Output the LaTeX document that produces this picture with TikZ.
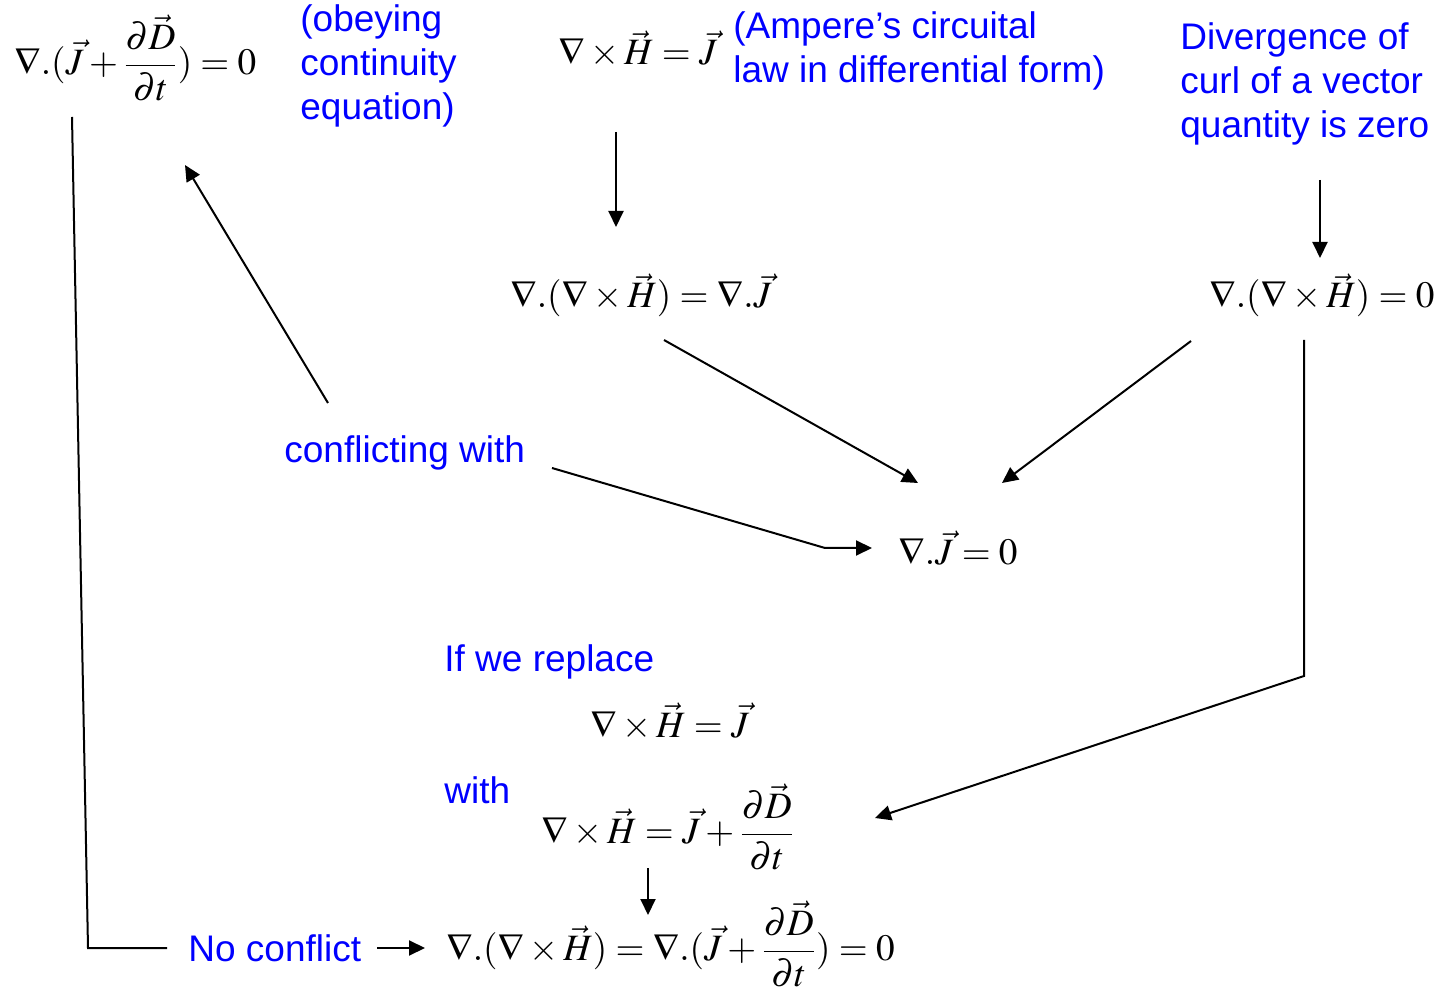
\documentclass[tikz,border=0pt]{standalone}
\usepackage{amsmath}
\usepackage{mathptmx}
\usepackage[no-math]{fontspec}
\newfontfamily\arialfont{Liberation Sans}
\usepackage{tikz}
\usetikzlibrary{arrows.meta,positioning}
\tikzset{
  eq/.style={inner sep=0pt,font=\fontsize{18.6}{22}\selectfont},
  note/.style={inner sep=0pt,text=blue,align=left,
               font=\arialfont\fontsize{18.5}{22}\selectfont},
  arr/.style={-{Triangle[length=8pt,width=7.5pt]},line width=1pt},
  link/.style={line width=1pt},
}
\begin{document}
\begin{tikzpicture}[x=0.5pt,y=-0.5pt]
  \useasboundingbox (0,0) rectangle (1436,994);
  \node[eq,anchor=west] (cont) at (14,58) {$\nabla.(\vec{J}+\dfrac{\partial\vec{D}}{\partial t})=0$};
  \node[note,anchor=north west] (obey) at (300,4) {(obeying\\continuity\\equation)};
  \node[eq,anchor=base west] (amp) at (558,65) {$\nabla\times\vec{H}=\vec{J}$};
  \node[note,anchor=north west] (ampt) at (733,11) {(Ampere’s circuital\\law in differential form)};
  \node[note,anchor=north west] (divt) at (1180,22) {Divergence of\\curl of a vector\\quantity is zero};
  \node[eq,anchor=base west] (dcurl) at (510,308) {$\nabla.(\nabla\times\vec{H})=\nabla.\vec{J}$};
  \node[eq,anchor=base west] (dzero) at (1209,308) {$\nabla.(\nabla\times\vec{H})=0$};
  \node[eq,anchor=base west] (divj) at (898,565) {$\nabla.\vec{J}=0$};
  \node[note,anchor=west] (confl) at (284,453) {conflicting with};
  \node[note,anchor=west] (repl) at (444,662) {If we replace};
  \node[eq,anchor=base west] (old) at (590,737) {$\nabla\times\vec{H}=\vec{J}$};
  \node[note,anchor=west] (with) at (444,790) {with};
  \node[eq,anchor=west] (new) at (541,827) {$\nabla\times\vec{H}=\vec{J}+\dfrac{\partial\vec{D}}{\partial t}$};
  \node[note,anchor=west] (nocon) at (188,948) {No conflict};
  \node[eq,anchor=west] (fin) at (446,944) {$\nabla.(\nabla\times\vec{H})=\nabla.(\vec{J}+\dfrac{\partial\vec{D}}{\partial t})=0$};

  \draw[arr] ([shift={(58,67)}]amp.base west) -- ([shift={(106,-81)}]dcurl.base west);
  \draw[arr] ([shift={(140,158)}]divt.north west) -- ([shift={(111,-50)}]dzero.base west);
  \draw[arr] ([shift={(154,32)}]dcurl.base west) -- ([shift={(20,-82)}]divj.base west);
  \draw[arr] ([shift={(-18,33)}]dzero.base west) -- ([shift={(104,-82)}]divj.base west);
  \draw[arr] ([shift={(44,-50)}]confl.west) -- ([shift={(171,107)}]cont.west);
  \draw[arr] ([shift={(268,15)}]confl.west) -- ([shift={(-73,-17)}]divj.base west)
    -- ([shift={(-26,-17)}]divj.base west);
  \draw[arr] ([shift={(95,32)}]dzero.base west) -- ([shift={(95,368)}]dzero.base west)
    -- ([shift={(334,-9)}]new.west);
  \draw[arr] ([shift={(107,41)}]new.west) -- ([shift={(202,-29)}]fin.west);
  \draw[arr] ([shift={(189,0)}]nocon.west) -- ([shift={(-21,4)}]fin.west);
  \draw[link] ([shift={(58,59)}]cont.west) -- ([shift={(-100,0)}]nocon.west) -- ([shift={(-21,0)}]nocon.west);
\end{tikzpicture}
\end{document}
